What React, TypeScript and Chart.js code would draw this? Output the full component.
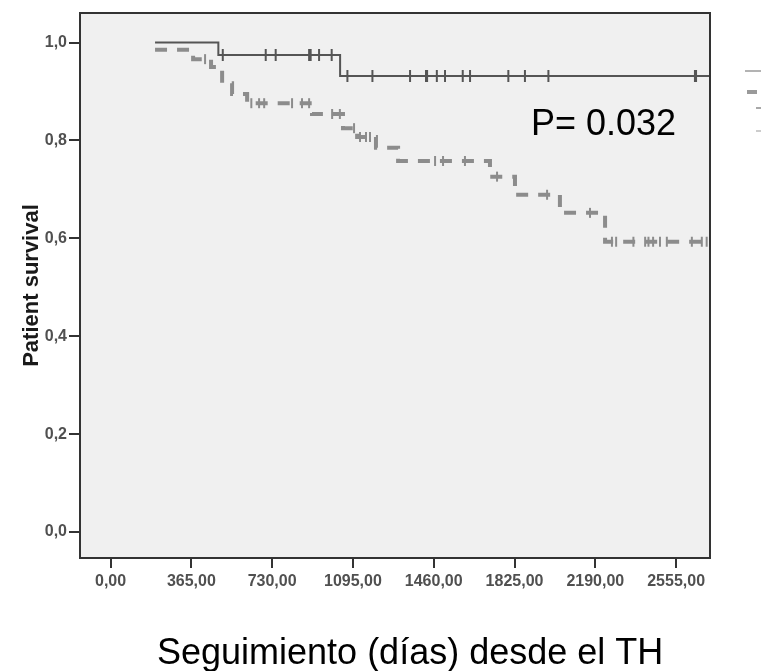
import React, { useEffect, useRef } from 'react';
import { Chart, registerables } from 'chart.js';

Chart.register(...registerables);

// ---- Data ----
const xTickValues = [0, 365, 730, 1095, 1460, 1825, 2190, 2555];
const yTickValues = [0, 0.2, 0.4, 0.6, 0.8, 1.0];

// Group 1 (solid, upper curve): step times (days) and survival after each step
const group1Times = [201, 487, 1037, 2705];
const group1Surv = [1.0, 0.9745, 0.9316, 0.9316];
const group1Censored = [507, 701, 746, 897, 904, 942, 999, 1070, 1183, 1353, 1425, 1430, 1474, 1511, 1591, 1624, 1797, 1872, 1978, 2640, 2645];

// Group 2 (grey dashed, lower curve)
const group2Times = [201, 373, 454, 504, 549, 617, 910, 1050, 1114, 1199, 1299, 1714, 1827, 2030, 2234, 2695];
const group2Surv = [0.985, 0.966, 0.95, 0.917, 0.895, 0.876, 0.854, 0.825, 0.807, 0.785, 0.758, 0.726, 0.689, 0.652, 0.593, 0.593];
const group2Censored = [427, 636, 671, 694, 820, 865, 897, 1001, 1036, 1100, 1127, 1154, 1172, 1466, 1502, 1601, 1746, 1972, 2166, 2265, 2284, 2362, 2415, 2430, 2451, 2482, 2513, 2626, 2671, 2693];

const pValueText = 'P= 0.032';
const xTitle = 'Seguimiento (días) desde el TH';
const yTitle = 'Patient survival';

const FONT = 'Arial, "Liberation Sans", sans-serif';

function survivalAt(times: number[], surv: number[], t: number) {
  let s = surv[0];
  for (let i = 0; i < times.length; i++) {
    if (times[i] <= t) s = surv[i];
  }
  return s;
}

const decorPlugin = {
  id: 'decor',
  beforeDraw(chart: any) {
    const { ctx, chartArea } = chart;
    ctx.save();
    ctx.fillStyle = '#ffffff';
    ctx.fillRect(0, 0, chart.width, chart.height);
    ctx.fillStyle = '#f0f0f0';
    ctx.fillRect(chartArea.left, chartArea.top, chartArea.right - chartArea.left, chartArea.bottom - chartArea.top);
    ctx.restore();
  },
  afterDraw(chart: any) {
    const { ctx, chartArea } = chart;
    ctx.save();
    // frame
    ctx.strokeStyle = '#333333';
    ctx.lineWidth = 2;
    ctx.strokeRect(chartArea.left, chartArea.top, chartArea.right - chartArea.left, chartArea.bottom - chartArea.top);

    // p-value
    ctx.fillStyle = '#000000';
    ctx.font = `36px ${FONT}`;
    ctx.textAlign = 'left';
    ctx.textBaseline = 'alphabetic';
    ctx.fillText(pValueText, 531, 135);

    // x title
    ctx.fillText(xTitle, 157, 664);

    // cropped legend fragment on the right
    ctx.strokeStyle = '#9a9a9a';
    ctx.lineWidth = 1.5;
    ctx.beginPath();
    ctx.moveTo(745, 71);
    ctx.lineTo(761, 71);
    ctx.stroke();
    ctx.lineWidth = 4;
    ctx.beginPath();
    ctx.moveTo(747, 92);
    ctx.lineTo(757, 92);
    ctx.stroke();
    ctx.strokeStyle = '#a8a8a8';
    ctx.lineWidth = 2;
    ctx.beginPath();
    ctx.moveTo(756, 108);
    ctx.lineTo(761, 108);
    ctx.stroke();
    ctx.strokeStyle = '#bbbbbb';
    ctx.lineWidth = 1.5;
    ctx.beginPath();
    ctx.moveTo(756, 131);
    ctx.lineTo(761, 131);
    ctx.stroke();
    ctx.restore();
  },
};

export default function App() {
  const canvasRef = useRef<HTMLCanvasElement>(null);

  useEffect(() => {
    const canvas = canvasRef.current;
    if (!canvas) return;

    const g1Line = group1Times.map((t, i) => ({ x: t, y: group1Surv[i] }));
    const g2Line = group2Times.map((t, i) => ({ x: t, y: group2Surv[i] }));
    const g1Cens = group1Censored.map((t) => ({ x: t, y: survivalAt(group1Times, group1Surv, t) }));
    const g2Cens = group2Censored.map((t) => ({ x: t, y: survivalAt(group2Times, group2Surv, t) }));

    const chart = new Chart(canvas, {
      type: 'scatter',
      data: {
        datasets: [
          {
            label: 'Grupo 2',
            data: g2Line,
            showLine: true,
            stepped: true,
            borderColor: '#8c8c8c',
            borderWidth: 4,
            borderDash: [12, 10],
            borderCapStyle: 'butt',
            pointRadius: 0,
            fill: false,
          } as any,
          {
            label: 'Grupo 2 censurado',
            data: g2Cens,
            showLine: false,
            pointStyle: 'line',
            pointRotation: 90,
            pointRadius: 5,
            pointBorderWidth: 2,
            pointBorderColor: '#8c8c8c',
            pointBackgroundColor: '#8c8c8c',
          } as any,
          {
            label: 'Grupo 1',
            data: g1Line,
            showLine: true,
            stepped: true,
            borderColor: '#555555',
            borderWidth: 2,
            pointRadius: 0,
            fill: false,
          } as any,
          {
            label: 'Grupo 1 censurado',
            data: g1Cens,
            showLine: false,
            pointStyle: 'line',
            pointRotation: 90,
            pointRadius: 6,
            pointBorderWidth: 2,
            pointBorderColor: '#555555',
            pointBackgroundColor: '#555555',
          } as any,
        ],
      },
      options: {
        responsive: false,
        animation: false,
        devicePixelRatio: 1,
        events: [],
        layout: { padding: { left: 0, top: 13, right: 51, bottom: 0 } },
        plugins: {
          legend: { display: false },
          title: { display: false },
          tooltip: { enabled: false },
        },
        scales: {
          x: {
            type: 'linear',
            min: -138,
            max: 2708,
            afterBuildTicks: (scale: any) => {
              scale.ticks = xTickValues.map((v) => ({ value: v }));
            },
            afterFit: (scale: any) => {
              scale.height = 113;
            },
            border: { display: false },
            grid: {
              display: true,
              drawOnChartArea: false,
              drawTicks: true,
              tickLength: 10,
              color: '#333333',
              lineWidth: 2,
            },
            ticks: {
              autoSkip: false,
              maxRotation: 0,
              minRotation: 0,
              padding: 4,
              color: '#505050',
              font: { family: FONT, size: 16, weight: 'bold' },
              callback: (v: any) => Number(v).toFixed(2).replace('.', ','),
            },
          },
          y: {
            type: 'linear',
            min: -0.0531,
            max: 1.0603,
            afterBuildTicks: (scale: any) => {
              scale.ticks = yTickValues.map((v) => ({ value: v }));
            },
            afterFit: (scale: any) => {
              scale.width = 80;
            },
            border: { display: false },
            grid: {
              display: true,
              drawOnChartArea: false,
              drawTicks: true,
              tickLength: 11,
              color: '#333333',
              lineWidth: 2,
            },
            ticks: {
              padding: 2,
              color: '#505050',
              font: { family: FONT, size: 16, weight: 'bold' },
              callback: (v: any) => Number(v).toFixed(1).replace('.', ','),
            },
            title: {
              display: true,
              text: yTitle,
              color: '#1a1a1a',
              font: { family: FONT, size: 22, weight: 'bold' },
              padding: { top: 18.5, bottom: 0 },
            },
          },
        },
      },
      plugins: [decorPlugin],
    });

    return () => chart.destroy();
  }, []);

  return (
    <div style={{ position: 'absolute', left: 0, top: 0, width: 761, height: 671, background: '#ffffff' }}>
      <canvas ref={canvasRef} width={761} height={671} style={{ display: 'block', width: 761, height: 671 }} />
    </div>
  );
}
